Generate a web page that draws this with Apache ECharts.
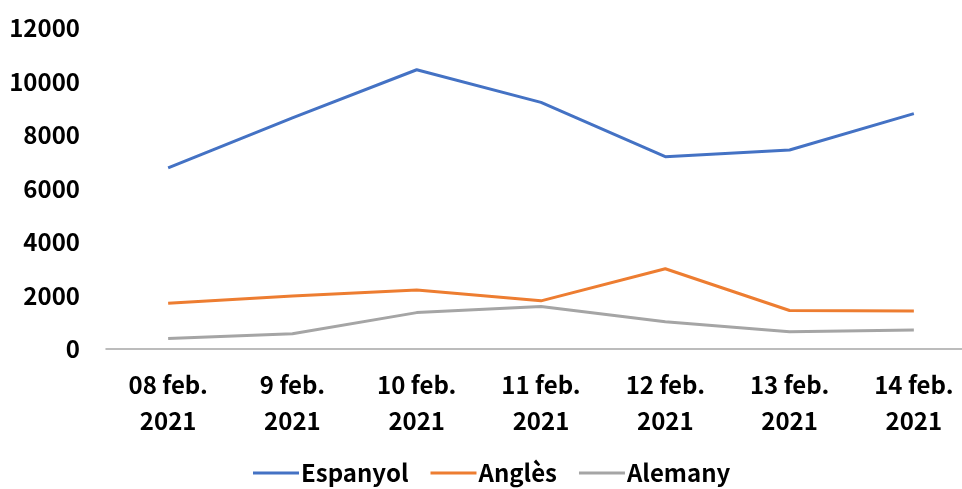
<!DOCTYPE html>
<html><head><meta charset="utf-8">
<script src="https://cdn.jsdelivr.net/npm/echarts@6/dist/echarts.min.js"></script>
<style>html,body{margin:0;padding:0;background:#fff;overflow:hidden;width:962px;height:489px}#c{width:976px;height:489px}</style>
</head><body><div id="c"></div>
<script>
const categories = ['08 feb.\n2021','9 feb.\n2021','10 feb.\n2021','11 feb.\n2021','12 feb.\n2021','13 feb.\n2021','14 feb.\n2021'];
const espanyol = [6770, 8640, 10440, 9220, 7190, 7440, 8800];
const angles = [1710, 1980, 2210, 1800, 3000, 1440, 1420];
const alemany = [390, 570, 1360, 1590, 1020, 645, 710];
const yTicks = [0, 2000, 4000, 6000, 8000, 10000, 12000];

const font = '"Noto Sans CJK KR", "Noto Sans", sans-serif';
const chart = echarts.init(document.getElementById('c'));
const mk = (name, data, color) => ({
  name, type: 'line', data, symbol: 'none', smooth: false,
  lineStyle: { color, width: 3 }, itemStyle: { color }
});
chart.setOption({
  animation: false,
  grid: { left: 106, right: 0, top: 28, bottom: 140 },
  legend: {
    top: 456, left: 248, itemWidth: 46, itemHeight: 3, itemGap: 22, icon: 'rect',
    textStyle: { fontFamily: font, fontWeight: 'bold', fontSize: 24, color: '#000', padding: [0,0,0,-3] },
    data: ['Espanyol','Anglès','Alemany']
  },
  xAxis: {
    type: 'category', data: categories, boundaryGap: true,
    axisLine: { lineStyle: { color: '#a6a6a6', width: 1.5 } },
    axisTick: { show: false },
    axisLabel: { fontFamily: font, fontWeight: 'bold', fontSize: 24, color: '#000', lineHeight: 36, margin: 18, interval: 0 }
  },
  yAxis: {
    type: 'value', min: yTicks[0], max: yTicks[yTicks.length-1], interval: 2000,
    splitLine: { show: false }, axisLine: { show: false }, axisTick: { show: false },
    axisLabel: { fontFamily: font, fontWeight: 'bold', fontSize: 24, color: '#000', margin: 26, formatter: v => String(v) }
  },
  series: [mk('Espanyol', espanyol, '#4472C4'), mk('Anglès', angles, '#ED7D31'), mk('Alemany', alemany, '#A5A5A5')]
});
</script></body></html>
